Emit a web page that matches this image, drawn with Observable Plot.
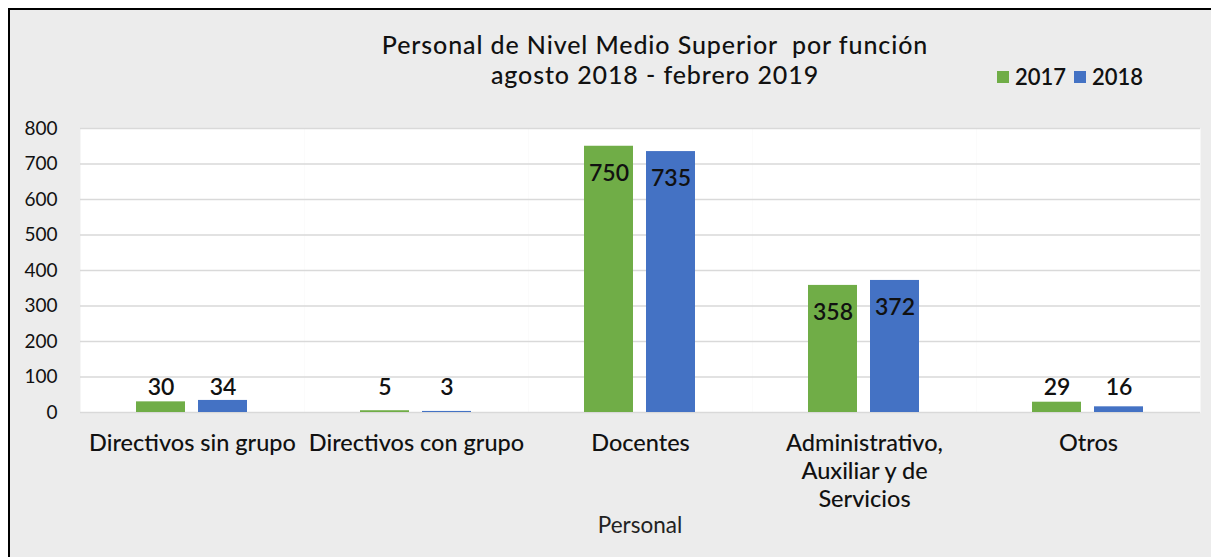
<!DOCTYPE html>
<html><head><meta charset="utf-8">
<script src="https://cdn.jsdelivr.net/npm/d3@7"></script>
<script src="https://cdn.jsdelivr.net/npm/@observablehq/plot@0.6"></script>
<style>
body{margin:0;background:#fff;font-family:Lato,"Open Sans",sans-serif;}
#wrap{position:relative;width:1211px;height:557px;overflow:hidden;}
#panel{position:absolute;left:8px;top:8px;width:1203px;height:549px;box-sizing:border-box;border-left:2px solid #000;border-top:2px solid #000;background:#ececec;}
#chart{position:absolute;left:0;top:0;}
#title{position:absolute;left:305px;top:29px;width:700px;text-align:center;font-size:25px;letter-spacing:0.9px;line-height:30px;color:#111;font-weight:500;}
#legend{position:absolute;left:997px;top:63px;font-size:22px;color:#111;display:flex;align-items:center;font-weight:600;}
#legend span.sw{display:inline-block;width:12px;height:12px;margin-right:6px;}
#legend span.lb{margin-right:8px;}
#xtitle{position:absolute;left:540px;top:511px;width:200px;text-align:center;font-size:22.5px;color:#222;}
</style></head>
<body>
<div id="wrap">
<div id="panel"></div>
<div id="chart"></div>
<div id="title">Personal de Nivel Medio Superior&nbsp; por función<br>agosto 2018 - febrero 2019</div>
<div id="legend"></div>
<div id="xtitle">Personal</div>
</div>
<script>
const categories = ["Directivos sin grupo","Directivos con grupo","Docentes","Administrativo,\nAuxiliar y de\nServicios","Otros"];
const years = ["2017","2018"];
const values2017 = [30,5,750,358,29];
const values2018 = [34,3,735,372,16];
const yTicks = [0,100,200,300,400,500,600,700,800];
const colors = ["#70ad47","#4472c4"];

const rows = [];
categories.forEach((c,i)=>{
  rows.push({category:c, year:years[0], value:values2017[i]});
  rows.push({category:c, year:years[1], value:values2018[i]});
});

const lg = document.getElementById("legend");
years.forEach((y,i)=>{
  const s=document.createElement("span");s.className="sw";s.style.background=colors[i];lg.appendChild(s);
  const t=document.createElement("span");t.className="lb";t.textContent=y;lg.appendChild(t);
});

const chart = Plot.plot({
  width:1211, height:557,
  marginTop:128, marginBottom:145, marginLeft:79, marginRight:11,
  style:{background:"transparent", fontFamily:"Lato, sans-serif", color:"#111"},
  fx:{domain:categories, padding:0, label:null},
  x:{domain:years, paddingInner:0.206, paddingOuter:0.883, axis:null},
  y:{domain:[0,800], label:null},
  color:{domain:years, range:colors},
  marks:[
    Plot.frame({fill:"white", stroke:null}),
    Plot.gridY(yTicks,{stroke:"#d9d9d9", strokeOpacity:1, strokeWidth:1.5}),
    Plot.axisY(yTicks,{tickSize:0, tickPadding:23, fontSize:19, label:null}),
    Plot.barY(rows,{fx:"category", x:"year", y:"value", fill:"year"}),
    Plot.text(rows.filter(d=>d.value<100),{fx:"category", x:"year", frameAnchor:"bottom", text:d=>String(d.value), dy:-25, lineAnchor:"middle", fontSize:23, fontWeight:600, fill:"#111"}),
    Plot.text(rows.filter(d=>d.value>=100),{fx:"category", x:"year", y:"value", text:d=>String(d.value), dy:27, fontSize:23, fontWeight:600, fill:"#111"}),
    Plot.axisFx({anchor:"bottom", tickSize:0, tickPadding:18, fontSize:23.5, fontWeight:500, lineHeight:1.2, label:null})
  ]
});
document.getElementById("chart").appendChild(chart);
</script>
</body></html>
